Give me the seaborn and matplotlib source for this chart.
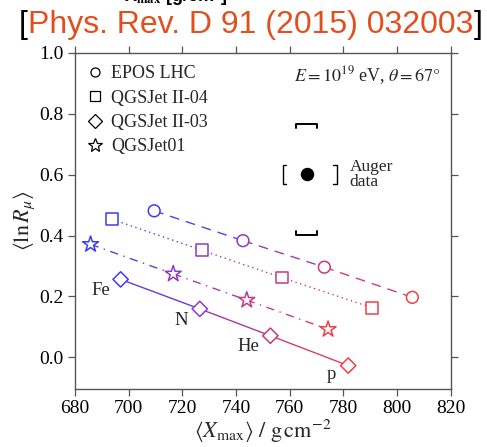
import numpy as np
import matplotlib
matplotlib.use("Agg")
import matplotlib.pyplot as plt
import seaborn as sns
import pandas as pd
from matplotlib.colors import to_rgb
from matplotlib.lines import Line2D

# ---- data ----
primaries = ["Fe", "N", "He", "p"]
prim_colors = ["#3c3cf0", "#8a3cc8", "#c03a86", "#f04048"]

models = ["EPOS LHC", "QGSJet II-04", "QGSJet II-03", "QGSJet01"]
markers = ["o", "s", "D", "*"]
linestyles = [(0, (7, 5)), (0, (1, 2.5)), "-", (0, (6, 4, 1, 4))]

epos_x = [709.5, 742.6, 772.9, 805.7]
epos_y = [0.481, 0.383, 0.296, 0.197]
q204_x = [693.9, 727.2, 757.0, 790.7]
q204_y = [0.453, 0.352, 0.262, 0.163]
q203_x = [697.0, 726.5, 752.8, 781.8]
q203_y = [0.256, 0.159, 0.071, -0.027]
q01_x = [685.8, 716.6, 744.0, 774.3]
q01_y = [0.371, 0.274, 0.188, 0.092]

auger_x = [766.3]
auger_y = [0.601]
auger_sys_x = [757.6, 777.5]
auger_sys_y = [0.402, 0.766]

label_x = [689.7, 719.5, 744.5, 775.4]
label_y = [0.221, 0.120, 0.034, -0.057]

xticks = [680, 700, 720, 740, 760, 780, 800, 820]
yticks = [0.0, 0.2, 0.4, 0.6, 0.8, 1.0]

rows = []
for m, xs, ys in zip(models, [epos_x, q204_x, q203_x, q01_x], [epos_y, q204_y, q203_y, q01_y]):
    for p, xv, yv in zip(primaries, xs, ys):
        rows.append(dict(model=m, primary=p, x=xv, y=yv))
df = pd.DataFrame(rows)

# ---- style ----
sns.set_theme(style="ticks")
plt.rcParams["font.family"] = ["Liberation Serif", "DejaVu Serif"]
plt.rcParams["mathtext.fontset"] = "stix"
plt.rcParams["axes.edgecolor"] = "#555555"
plt.rcParams["xtick.color"] = "#555555"
plt.rcParams["ytick.color"] = "#555555"
plt.rcParams["xtick.labelcolor"] = "black"
plt.rcParams["ytick.labelcolor"] = "black"

fig = plt.figure(figsize=(4.87, 4.47), dpi=100)
ax = fig.add_axes([0.154, 0.129, 0.7715, 0.753])

for m, mk, ls in zip(models, markers, linestyles):
    sub = df[df.model == m].reset_index(drop=True)
    for i in range(len(sub) - 1):
        c = 0.5 * (np.array(to_rgb(prim_colors[i])) + np.array(to_rgb(prim_colors[i + 1])))
        ax.plot(sub.x[i:i + 2], sub.y[i:i + 2], color=c, lw=1.0, ls=ls, zorder=2)
    ms = {"o": 8.5, "s": 8.5, "D": 7.8, "*": 12}[mk]
    sns.scatterplot(data=sub, x="x", y="y", hue="primary", palette=dict(zip(primaries, prim_colors)),
                    marker=mk, s=ms ** 2, facecolor="white",
                    linewidth=1.1, ax=ax, legend=False, zorder=3)
    coll = ax.collections[-1]
    coll.set_edgecolors(prim_colors)
    coll.set_facecolors("white")

handles = [Line2D([], [], marker=mk, ls="none", mfc="white", mec="black", mew=0.9,
                  ms=(10 if mk == "*" else 7.5 if mk == "D" else 6.5)) for mk in markers]
ax.legend(handles, models, loc="upper left", frameon=False, fontsize=13,
          handlelength=0.8, handletextpad=0.5, labelspacing=0.4,
          borderaxespad=0.3, bbox_to_anchor=(0.0, 1.0))

# Auger data point with systematic brackets
ax.scatter(auger_x, auger_y, s=75, color="black", zorder=4)
xc = auger_x[0]
ax.plot([xc - 4.0, xc - 4.0, xc + 4.0, xc + 4.0],
        [auger_sys_y[1] - 0.012, auger_sys_y[1], auger_sys_y[1], auger_sys_y[1] - 0.012],
        color="black", lw=1.4)
ax.plot([xc - 4.0, xc - 4.0, xc + 4.0, xc + 4.0],
        [auger_sys_y[0] + 0.012, auger_sys_y[0], auger_sys_y[0], auger_sys_y[0] + 0.012],
        color="black", lw=1.4)
for xb, d in zip(auger_sys_x, [1, -1]):
    ax.plot([xb + d * 1.2, xb, xb, xb + d * 1.2],
            [auger_y[0] + 0.032, auger_y[0] + 0.032, auger_y[0] - 0.032, auger_y[0] - 0.032],
            color="black", lw=1.0)
ax.text(782.3, auger_y[0], "Auger\ndata", fontsize=12.5, ha="left", va="center", linespacing=0.9)

ax.text(0.975, 0.915, r"$E = 10^{19}$ eV, $\theta = 67°$", transform=ax.transAxes,
        ha="right", va="baseline", fontsize=13)

for t, lx, ly in zip(primaries, label_x, label_y):
    ax.text(lx, ly, t, fontsize=13.5, ha="center", va="center")

ax.set_xlim(680, 820)
ax.set_ylim(-0.105, 1.0)
ax.set_xticks(xticks)
ax.set_yticks(yticks)
ax.set_yticklabels([f"{v:.1f}" for v in yticks])
ax.tick_params(direction="out", length=5, width=0.9, labelsize=14,
               top=True, right=True, labeltop=False, labelright=False, pad=3)
for s in ax.spines.values():
    s.set_linewidth(1.0)

ax.set_xlabel(r"$\langle X_{\rm max}\rangle\ /\ {\rm g\,cm}^{-2}$", fontsize=16, labelpad=0)
ax.set_ylabel(r"$\langle \ln R_{\mu}\rangle$", fontsize=16, labelpad=2)

# clipped remnant of a label above (cut off by the image edge, as in the reference)
fig.text(0.36, 1.0 - 1.0 / 447, r"X$_{\mathbf{max}}$ [g/cm$^2$]", ha="center", va="baseline",
         fontsize=13, family="Liberation Sans", weight="bold", color="black")

# title with citation
ty = 0.943
ttl = fig.text(0.515, ty, "Phys. Rev. D 91 (2015) 032003", ha="center", va="center",
               fontsize=23, family="Liberation Sans", color="#e0501e")
fig.canvas.draw()
bb = ttl.get_window_extent().transformed(fig.transFigure.inverted())
fig.text(bb.x0, ty, "[", ha="right", va="center", fontsize=23, family="Liberation Sans", color="black")
fig.text(bb.x1, ty, "]", ha="left", va="center", fontsize=23, family="Liberation Sans", color="black")

fig.savefig("out.png", dpi=100)
